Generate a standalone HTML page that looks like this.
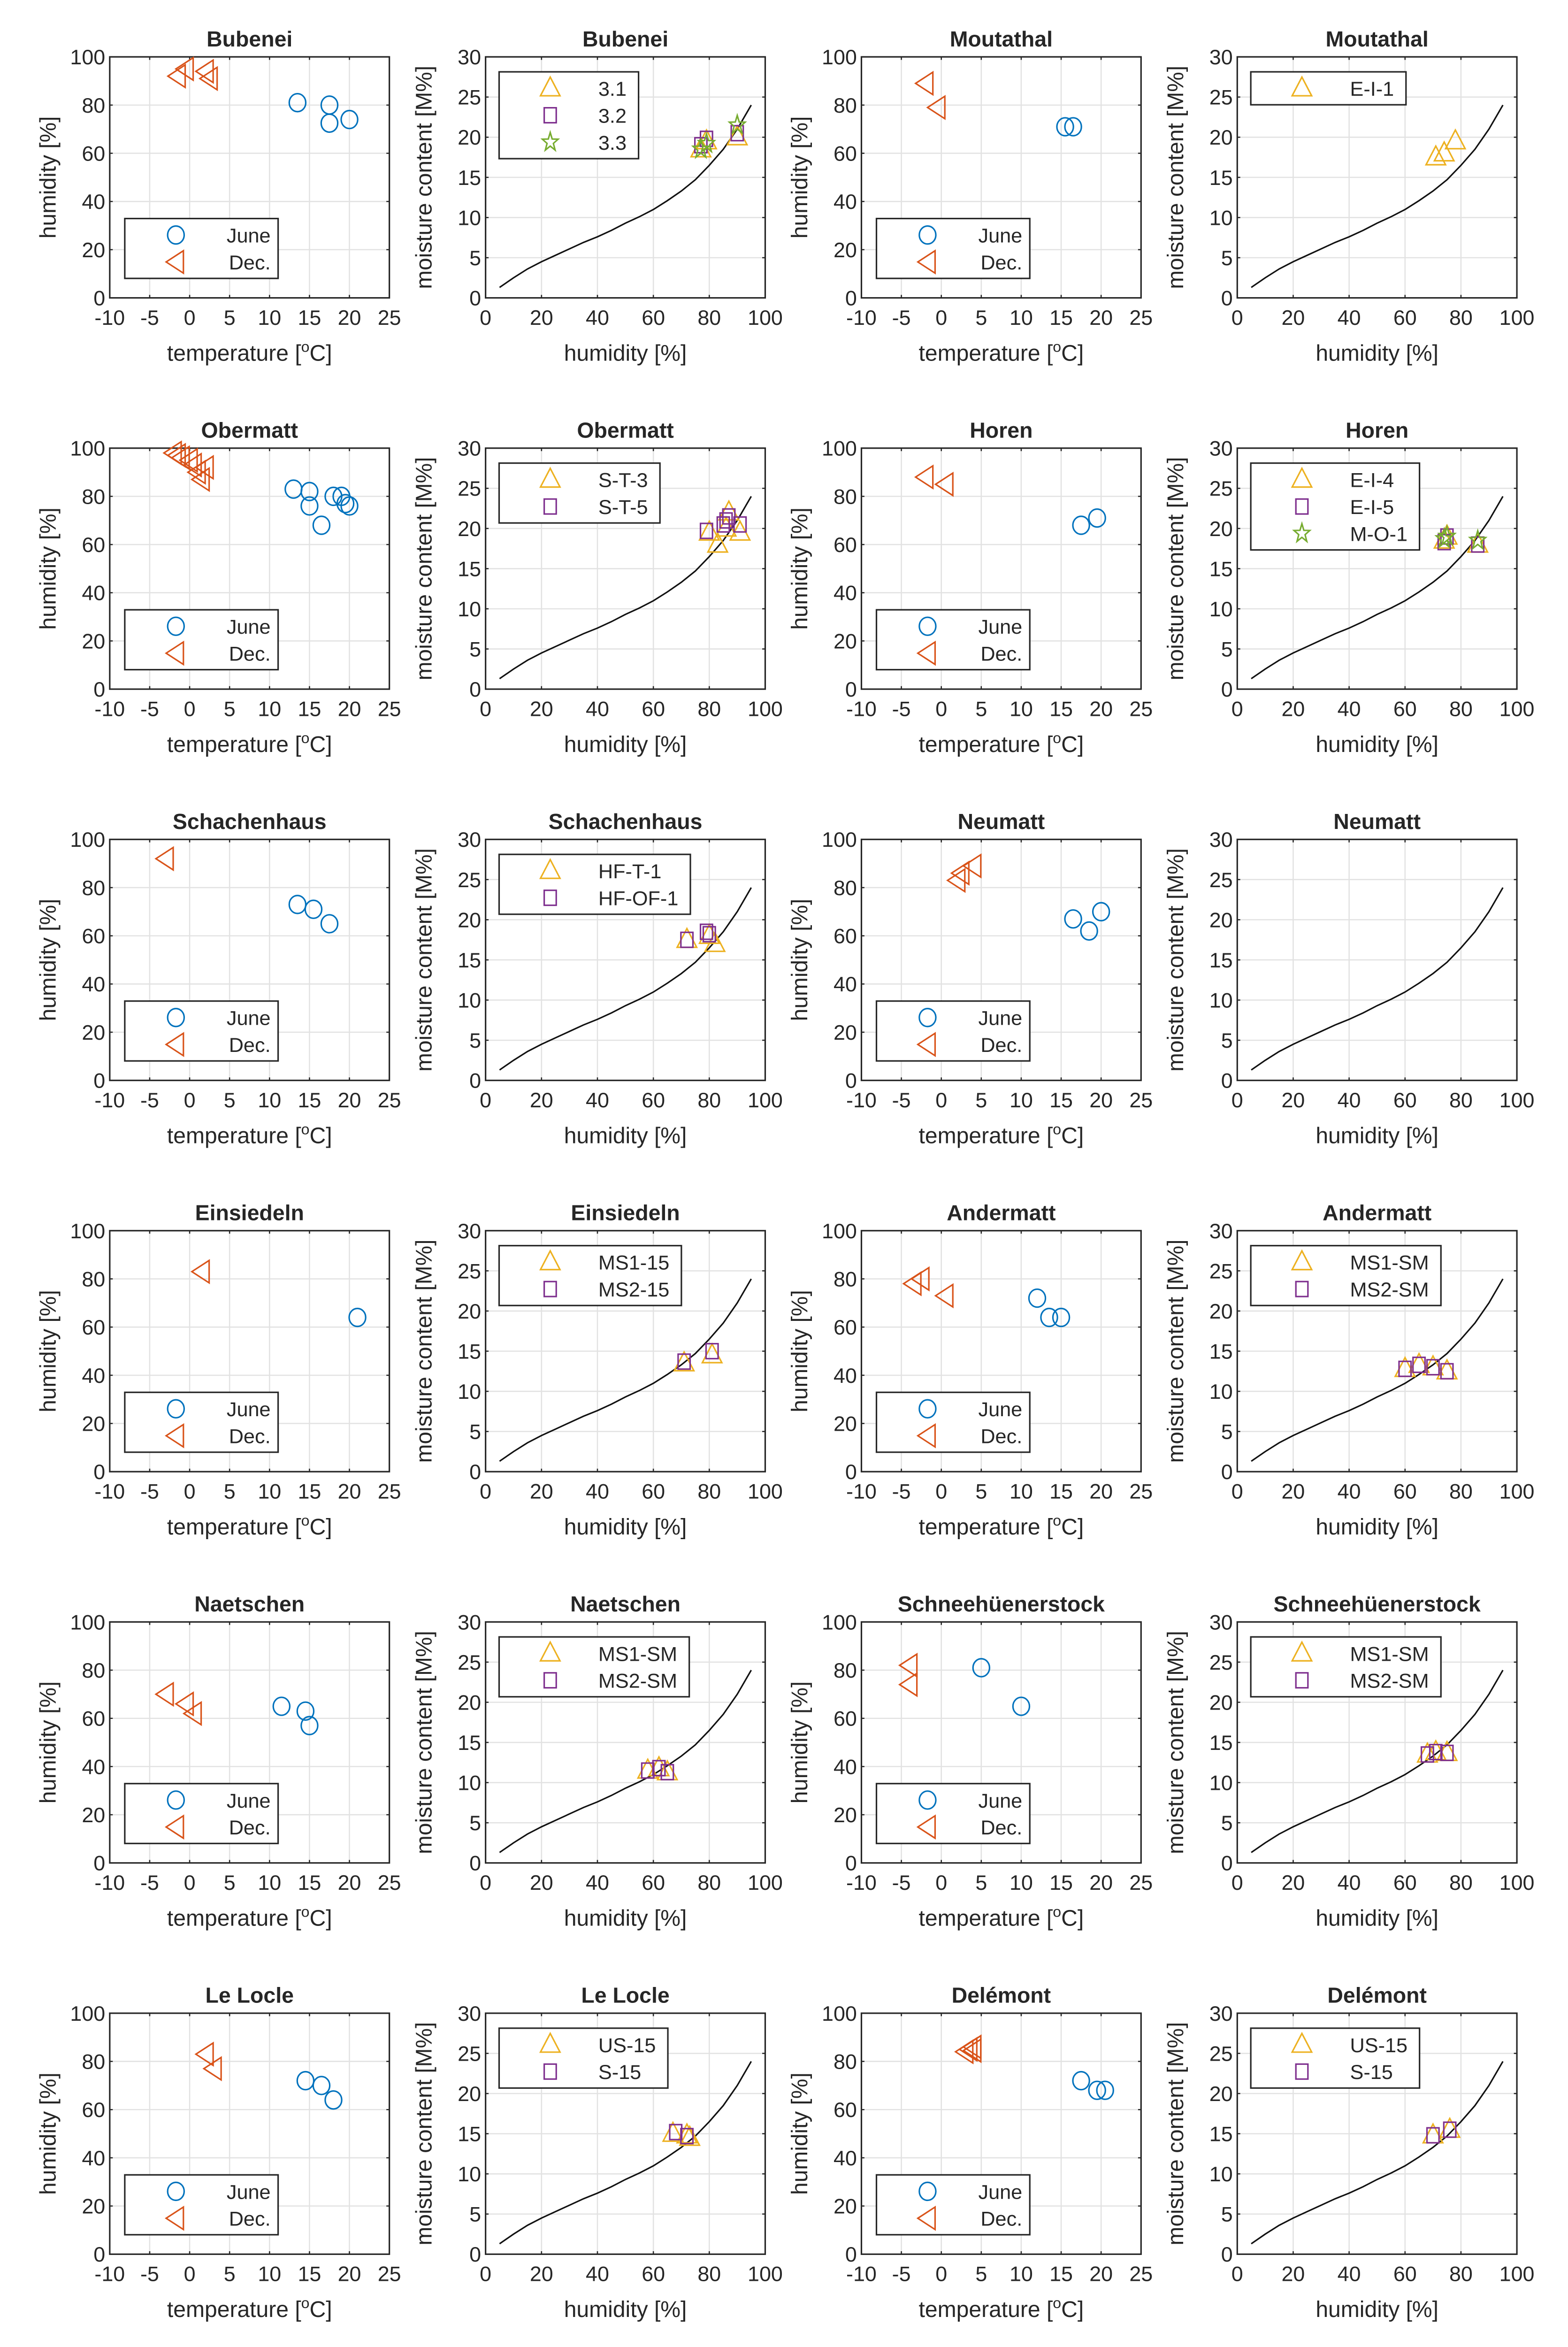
<!DOCTYPE html>
<html><head><meta charset="utf-8"><style>
html,body{margin:0;padding:0;background:#fff;width:100%;height:100%;overflow:hidden}
svg{display:block;position:fixed;left:0;top:0;width:100vw;height:100vh}
text{font-family:"Liberation Sans",sans-serif;fill:#262626}
</style></head><body>
<svg id="fig" viewBox="0 0 1043 1568" preserveAspectRatio="none" xmlns="http://www.w3.org/2000/svg"></svg>
<script>
const siteNames = ["Bubenei","Moutathal","Obermatt","Horen","Schachenhaus","Neumatt","Einsiedeln","Andermatt","Naetschen","Schneehüenerstock","Le Locle","Delémont"];
const juneTemp = [[13.5,17.5,17.5,20],[15.5,16.5],[13,15,15,16.5,18,19,19.5,20],[17.5,19.5],[13.5,15.5,17.5],[16.5,18.5,20],[21],[12,13.5,15],[11.5,14.5,15],[5,10],[14.5,16.5,18],[17.5,19.5,20.5]];
const juneHum = [[81,80,72.5,74],[71,71],[83,82,76,68,80,80,77,76],[68,71],[73,71,65],[67,62,70],[64],[72,64,64],[65,63,57],[81,65],[72,70,64],[72,68,68]];
const decTemp = [[-1.5,-0.5,2,2.5],[-2,-0.5],[-2,-1,0,0.5,1,1.5,2,-1.5],[-2,0.5],[-3],[2,2.5,4],[1.5],[-3.5,-2.5,0.5],[-3,-0.5,0.5],[-4,-4],[2,3],[3,3.5,4,4]];
const decHum = [[92,95,94,91],[89,79],[98,96,95,93,90,87,92,97],[88,85],[92],[83,86,89],[83],[78,80,73],[70,66,62],[82,74],[83,77],[84,85,86,84.5]];
const mcLabels = [["3.1","3.2","3.3"],["E-I-1"],["S-T-3","S-T-5"],["E-I-4","E-I-5","M-O-1"],["HF-T-1","HF-OF-1"],[],["MS1-15","MS2-15"],["MS1-SM","MS2-SM"],["MS1-SM","MS2-SM"],["MS1-SM","MS2-SM"],["US-15","S-15"],["US-15","S-15"]];
const mcHum = [[[77,79,90],[77,79,90],[77,79,90]],[[71,74,78]],[[80,83,86,87,91],[79,85,86,87,91]],[[74,75,86],[74,75,86],[74,75,86]],[[72,80,82],[72,79,80]],[],[[71,81],[71,81]],[[60,65,70,75],[60,65,70,75]],[[58,62,65],[58,62,65]],[[68,71,75],[68,71,75]],[[67,72,73],[68,72]],[[70,76],[70,76]]];
const mcVal = [[[18.5,19.5,20],[19,19.8,20.5],[18.5,19.2,21.5]],[[17.5,18,19.5]],[[19.5,18,20,22,19.5],[19.7,20.5,21,21.5,20.5]],[[18.5,19,18],[18.3,19,18],[18.7,19,18.5]],[[17.5,18,17],[17.5,18.5,18.2]],[],[[13.5,14.5],[13.7,15]],[[12.8,13.3,13,12.5],[12.8,13.3,13,12.5]],[[11.5,11.8,11.3],[11.5,11.8,11.3]],[[13.5,13.8,13.7],[13.5,13.8,13.7]],[[15,14.8,14.5],[15.2,14.7]],[[14.8,15.5],[14.8,15.5]]];
const curveRH = [5,10,15,20,25,30,35,40,45,50,55,60,65,70,75,80,85,90,95];
const curveMC = [1.3,2.5,3.6,4.5,5.3,6.1,6.9,7.6,8.4,9.3,10.1,11.0,12.1,13.3,14.7,16.5,18.5,21.0,24.0];
const tempTicks = [-10,-5,0,5,10,15,20,25];
const humTicks = [0,20,40,60,80,100];
const rhTicks = [0,20,40,60,80,100];
const mcTicks = [0,5,10,15,20,25,30];

const svg = document.getElementById('fig');
const NS = 'http://www.w3.org/2000/svg';
const COL = {june:'#0072BD',dec:'#D95319',s:['#EDB120','#7E2F8E','#77AC30']};
function mk(tag, attrs, parent){const e=document.createElementNS(NS,tag);for(const k in attrs)e.setAttribute(k,attrs[k]);(parent||svg).appendChild(e);return e;}
function txt(s,x,y,attrs,parent){const t=mk('text',Object.assign({x:x,y:y},attrs),parent);t.textContent=s;return t;}
function marker(type,cx,cy,color,parent){
  let e;
  if(type==='circle'){e=mk('ellipse',{cx:cx,cy:cy,rx:5.5,ry:6,fill:'none',stroke:color,'stroke-width':1},parent);}
  else if(type==='left'){e=mk('polygon',{points:`${cx-6.5},${cy} ${cx+5},${cy-7.5} ${cx+5},${cy+7.5}`,fill:'none',stroke:color,'stroke-width':1},parent);}
  else if(type==='tri'){e=mk('polygon',{points:`${cx},${cy-7.5} ${cx-6.5},${cy+5} ${cx+6.5},${cy+5}`,fill:'none',stroke:color,'stroke-width':1},parent);}
  else if(type==='sq'){e=mk('rect',{x:cx-4,y:cy-5,width:8,height:10,fill:'none',stroke:color,'stroke-width':1},parent);}
  else {let p=[];for(let i=0;i<10;i++){const r=i%2?2.6:6.5;const a=-Math.PI/2+i*Math.PI/5;p.push((cx+r*Math.cos(a)*0.85).toFixed(2)+','+(cy+r*Math.sin(a)).toFixed(2));}
    e=mk('polygon',{points:p.join(' '),fill:'none',stroke:color,'stroke-width':1},parent);}
  return e;
}
const mTypes=['tri','sq','star'];
const colLeft=[73,323,573,823], W=186, H=161;

function axes(g,L,T,xmin,xmax,ymin,ymax,xt,yt,title,xlab,ylab,xlabSup){
  const sx=v=>L+(v-xmin)/(xmax-xmin)*W, sy=v=>T+H-(v-ymin)/(ymax-ymin)*H;
  xt.forEach(v=>{const l=mk('line',{x1:sx(v),x2:sx(v),y1:T,y2:T+H,stroke:'#e2e2e2','stroke-width':0.8},g);});
  yt.forEach(v=>{const l=mk('line',{x1:L,x2:L+W,y1:sy(v),y2:sy(v),stroke:'#e2e2e2','stroke-width':0.8},g);});
  const box=mk('rect',{x:L,y:T,width:W,height:H,fill:'none',stroke:'#262626','stroke-width':1},g);
  
  xt.forEach(v=>{mk('line',{x1:sx(v),x2:sx(v),y1:T+H,y2:T+H-2,stroke:'#262626','stroke-width':0.8},g);mk('line',{x1:sx(v),x2:sx(v),y1:T,y2:T+2,stroke:'#262626','stroke-width':0.8},g);
    const t=txt(String(v),sx(v),T+H+18,{'font-size':14,'text-anchor':'middle'},g);});
  yt.forEach(v=>{mk('line',{x1:L,x2:L+2,y1:sy(v),y2:sy(v),stroke:'#262626','stroke-width':0.8},g);mk('line',{x1:L+W,x2:L+W-2,y1:sy(v),y2:sy(v),stroke:'#262626','stroke-width':0.8},g);
    const t=txt(String(v),L-3,sy(v)+5,{'font-size':14,'text-anchor':'end'},g);});
  const tt=txt(title,L+W/2,T-7,{'font-size':14.5,'font-weight':'bold','text-anchor':'middle'},g);
  
  const xl=txt(xlab,L+W/2,T+H+42,{'font-size':15,'text-anchor':'middle'},g);
  if(xlabSup){const a=mk('tspan',{dy:-6,'font-size':10},xl);a.textContent='o';const b=mk('tspan',{dy:6},xl);b.textContent='C]';}
  
  const yx=L-36, yy=T+H/2;
  const yl=txt(ylab,yx,yy,{'font-size':15,'text-anchor':'middle',transform:`rotate(-90 ${yx} ${yy})`},g);
  
  return {sx,sy};
}
function legend(g,x,y,entries){
  const lg=mk('g',{},g);
  
  
  const rows=entries.length, h=rows*18+4;
  const r=mk('rect',{x:x,y:y,width:10,height:h,fill:'#fff',stroke:'#262626','stroke-width':1},lg);
  let maxEnd=0;
  entries.forEach((en,i)=>{
    const cy=y+11+i*18;
    const m=marker(en.type,x+34,cy,en.color,lg);
    
    const t=txt(en.label,x+(en.right?0:66),cy+5,{'font-size':13.5},lg);
    
    en.t=t;
  });
  if(entries[0].right){entries.forEach(en=>{const w=en.t.getComputedTextLength();en.t.setAttribute('x',x+97-w);});r.setAttribute('width',102);}
  else{entries.forEach(en=>{maxEnd=Math.max(maxEnd,en.t.getComputedTextLength());});r.setAttribute('width',Math.max(88,66+maxEnd+8));}
}

for(let s=0;s<12;s++){
  const row=Math.floor(s/2), pair=s%2;
  const T=38+row*261.4;
  const g1=mk('g',{});
  
  
  const L1=colLeft[pair*2];
  const a1=axes(g1,L1,T,-10,25,0,100,tempTicks,humTicks,siteNames[s],'temperature [',"humidity [%]",true);
  juneTemp[s].forEach((v,i)=>{const m=marker('circle',a1.sx(v),a1.sy(juneHum[s][i]),COL.june,g1);});
  decTemp[s].forEach((v,i)=>{const m=marker('left',a1.sx(v),a1.sy(decHum[s][i]),COL.dec,g1);});
  legend(g1,L1+10,T+108,[{type:'circle',color:COL.june,label:'June',right:true},{type:'left',color:COL.dec,label:'Dec.',right:true}]);
  const g2=mk('g',{});
  
  
  const L2=colLeft[pair*2+1];
  const a2=axes(g2,L2,T,0,100,0,30,rhTicks,mcTicks,siteNames[s],'humidity [%]','moisture content [M%]',false);
  const d=curveRH.map((v,i)=>(i?'L':'M')+a2.sx(v).toFixed(2)+','+a2.sy(curveMC[i]).toFixed(2)).join(' ');
  const c=mk('path',{d:d,fill:'none',stroke:'#111','stroke-width':1},g2);
  
  mcHum[s].forEach((ser,k)=>{ser.forEach((v,i)=>{const m=marker(mTypes[k],a2.sx(v),a2.sy(mcVal[s][k][i]),COL.s[k],g2);});});
  if(mcLabels[s].length) legend(g2,L2+9,T+10,mcLabels[s].map((lab,k)=>({type:mTypes[k],color:COL.s[k],label:lab})));
}
</script>
</body></html>
